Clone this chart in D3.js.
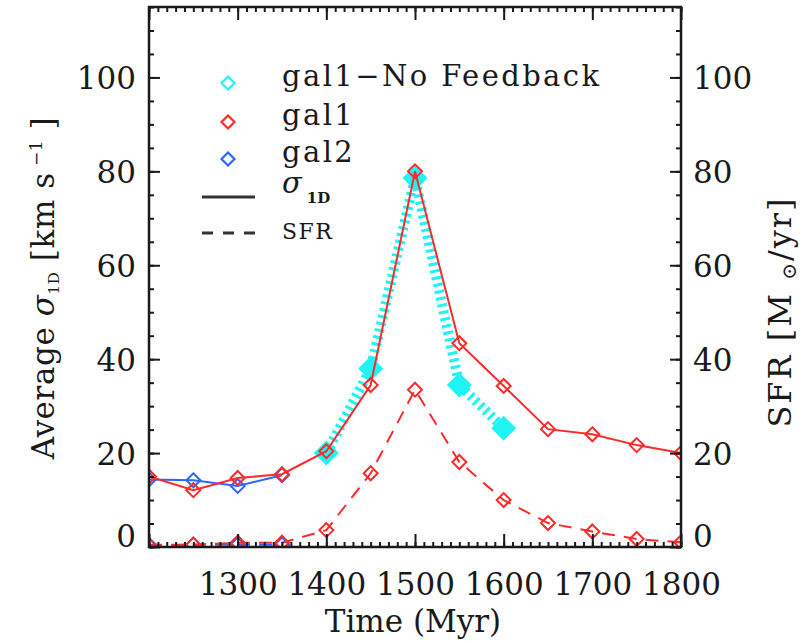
<!DOCTYPE html>
<html><head><meta charset="utf-8">
<script src="https://cdn.jsdelivr.net/npm/d3@7"></script>
<style>
body{margin:0;background:#fff}
svg{display:block}
text{font-family:"DejaVu Serif",serif;fill:#1a1a1a}
</style>
</head><body>
<svg id="chart" width="803" height="643"></svg>
<script>
// Simulation snapshots (Myr)
const years = [1200,1250,1300,1350,1400,1450,1500,1550,1600,1650,1700,1750,1800];
// gal1: average 1D velocity dispersion (km/s) and star formation rate (Msun/yr)
const gal1Sigma = [15.0,12.1,14.7,15.5,20.4,34.5,80.0,43.4,34.3,25.1,24.0,21.7,20.0];
const gal1SFR   = [0.3,0.5,0.9,0.9,3.6,15.7,33.5,18.1,10.0,5.1,3.3,1.7,1.0];
// gal2 is only followed up to 1350 Myr
const gal2Years = [1200,1250,1300,1350];
const gal2Sigma = [14.4,14.2,13.0,15.3];
const gal2SFR   = [0.5,0.5,0.5,0.5];
// gal1 run without feedback
const noFbYears = [1400,1450,1500,1550,1600];
const noFbSigma = [20.0,38.0,78.6,34.5,25.3];

const xMajor = [1200,1300,1400,1500,1600,1700,1800];
const xMinor = d3.range(1200,1801,10);
const yMajor = [0,20,40,60,80,100];
const yMinor = d3.range(0,116,5);

const legendItems = ["gal1\u2212No Feedback","gal1","gal2"];

const CYAN = "#1ff4f4", RED = "#ff2a2a", BLUE = "#2a66ff", INK = "#1a1a1a";
const L = 149, R = 681, T = 7, B = 547;

const x = d3.scaleLinear().domain([1200,1800]).range([L,R]);
const y = d3.scaleLinear().domain([0,115]).range([B,T]);       // sigma
const ySfr = d3.scaleLinear().domain([0,115]).range([B,T]);    // SFR (right axis)

const svg = d3.select("#chart");
svg.append("defs").append("clipPath").attr("id","plotArea")
  .append("rect").attr("x",L).attr("y",T).attr("width",R-L).attr("height",B-T);

const diamond = r => `M0,${-r}L${r},0L0,${r}L${-r},0Z`;
const lineOf = (xs, sc) => d3.line().x((d,i)=>x(xs[i])).y(d=>sc(d));

const plot = svg.append("g").attr("clip-path","url(#plotArea)");

// no-feedback run: thick dotted line with filled diamonds
plot.append("path").datum(noFbSigma).attr("d", lineOf(noFbYears,y))
  .attr("fill","none").attr("stroke",CYAN).attr("stroke-width",10)
  .attr("stroke-dasharray","3,4");
plot.selectAll(".nofb").data(noFbSigma).join("path").attr("class","nofb")
  .attr("transform",(d,i)=>`translate(${x(noFbYears[i])},${y(d)})`)
  .attr("d",diamond(12.5)).attr("fill",CYAN);

function series(xs, sigma, sfr, color){
  plot.append("path").datum(sigma).attr("d", lineOf(xs,y))
    .attr("fill","none").attr("stroke",color).attr("stroke-width",2);
  plot.append("path").datum(sfr).attr("d", lineOf(xs,ySfr))
    .attr("fill","none").attr("stroke",color).attr("stroke-width",2)
    .attr("stroke-dasharray","13,9");
  [[sigma,y],[sfr,ySfr]].forEach(([vals,sc])=>{
    plot.append("g").selectAll("path").data(vals).join("path")
      .attr("transform",(d,i)=>`translate(${x(xs[i])},${sc(d)})`)
      .attr("d",diamond(7)).attr("fill","none")
      .attr("stroke",color).attr("stroke-width",2);
  });
}
series(gal2Years, gal2Sigma, gal2SFR, BLUE);
series(years, gal1Sigma, gal1SFR, RED);

// axes: ticks point inward, minor + major
const fmt = d3.format("d");
function styleAxis(g){
  g.select(".domain").remove();
  g.selectAll("line").attr("stroke",INK).attr("stroke-width",2);
  g.selectAll("text").attr("font-size",31).attr("fill",INK);
}
svg.append("g").attr("transform",`translate(0,${B})`)
  .call(d3.axisBottom(x).tickValues(xMinor).tickSize(-5).tickFormat("")).call(styleAxis);
svg.append("g").attr("transform",`translate(0,${B})`)
  .call(d3.axisBottom(x).tickValues(xMajor).tickSize(-13).tickPadding(26).tickFormat(fmt))
  .call(styleAxis)
  .call(g=>g.selectAll(".tick").filter(d=>d===1200).select("text").remove());
svg.append("g").attr("transform",`translate(0,${T})`)
  .call(d3.axisTop(x).tickValues(xMinor).tickSize(-5).tickFormat("")).call(styleAxis);
svg.append("g").attr("transform",`translate(0,${T})`)
  .call(d3.axisTop(x).tickValues(xMajor).tickSize(-13).tickFormat("")).call(styleAxis);

svg.append("g").attr("transform",`translate(${L},0)`)
  .call(d3.axisLeft(y).tickValues(yMinor).tickSize(-5).tickFormat("")).call(styleAxis);
svg.append("g").attr("transform",`translate(${L},0)`)
  .call(d3.axisLeft(y).tickValues(yMajor).tickSize(-11).tickPadding(13).tickFormat(fmt))
  .call(styleAxis)
  .call(g=>g.selectAll("text").attr("dy",d=>d===0?"-0.02em":"0.36em"));
svg.append("g").attr("transform",`translate(${R},0)`)
  .call(d3.axisRight(ySfr).tickValues(yMinor).tickSize(-5).tickFormat("")).call(styleAxis);
svg.append("g").attr("transform",`translate(${R},0)`)
  .call(d3.axisRight(ySfr).tickValues(yMajor).tickSize(-11).tickPadding(12).tickFormat(fmt))
  .call(styleAxis)
  .call(g=>g.selectAll("text").attr("dy",d=>d===0?"-0.02em":"0.36em"));

svg.append("rect").attr("x",L).attr("y",T).attr("width",R-L).attr("height",B-T)
  .attr("fill","none").attr("stroke",INK).attr("stroke-width",2.5);

// axis titles
svg.append("text").attr("x",(L+R)/2-2).attr("y",632).attr("text-anchor","middle")
  .attr("font-size",31).text("Time  (Myr)");

const lt = svg.append("text").attr("transform","translate(54,288) rotate(-90)")
  .attr("text-anchor","middle").attr("font-size",31).attr("letter-spacing",0.6);
lt.append("tspan").text("Average ");
lt.append("tspan").attr("font-style","italic").text("\u03c3");
lt.append("tspan").attr("font-size",15).attr("dy",5).text("1D");
lt.append("tspan").attr("dy",-5).text(" [km s");
lt.append("tspan").attr("font-size",17).attr("dy",-12).text(" \u22121");
lt.append("tspan").attr("dy",12).text(" ]");

const rt = svg.append("text").attr("transform","translate(791,312) rotate(-90)")
  .attr("text-anchor","middle").attr("font-size",32).attr("letter-spacing",2);
rt.append("tspan").text("SFR [M ");
rt.append("tspan").attr("font-size",20).attr("dy",5).text("\u2299");
rt.append("tspan").attr("dy",-5).text("/yr]");

// legend
const legendColors = [CYAN,RED,BLUE];
const legendY = [83,122,159];
const lg = svg.append("g");
legendItems.forEach((t,i)=>{
  lg.append("path").attr("transform",`translate(228,${legendY[i]})`)
    .attr("d",diamond(6.5)).attr("fill","none").attr("stroke",legendColors[i]).attr("stroke-width",2.2);
  lg.append("text").attr("x",282).attr("y",legendY[i]+3).attr("font-size",29)
    .attr("letter-spacing",2.4).text(t);
});
lg.append("line").attr("x1",202).attr("x2",255).attr("y1",197).attr("y2",197)
  .attr("stroke","#333").attr("stroke-width",3);
const st = lg.append("text").attr("x",282).attr("y",193).attr("font-size",29);
st.append("tspan").attr("font-style","italic").text("\u03c3");
st.append("tspan").attr("font-size",15).attr("font-weight","bold").attr("dx",5).attr("dy",10).text("1D");
lg.append("line").attr("x1",202).attr("x2",255).attr("y1",233).attr("y2",233)
  .attr("stroke","#333").attr("stroke-width",3).attr("stroke-dasharray","11,10");
lg.append("text").attr("x",282).attr("y",239).attr("font-size",22).attr("letter-spacing",1.5).text("SFR");
</script>
</body></html>
